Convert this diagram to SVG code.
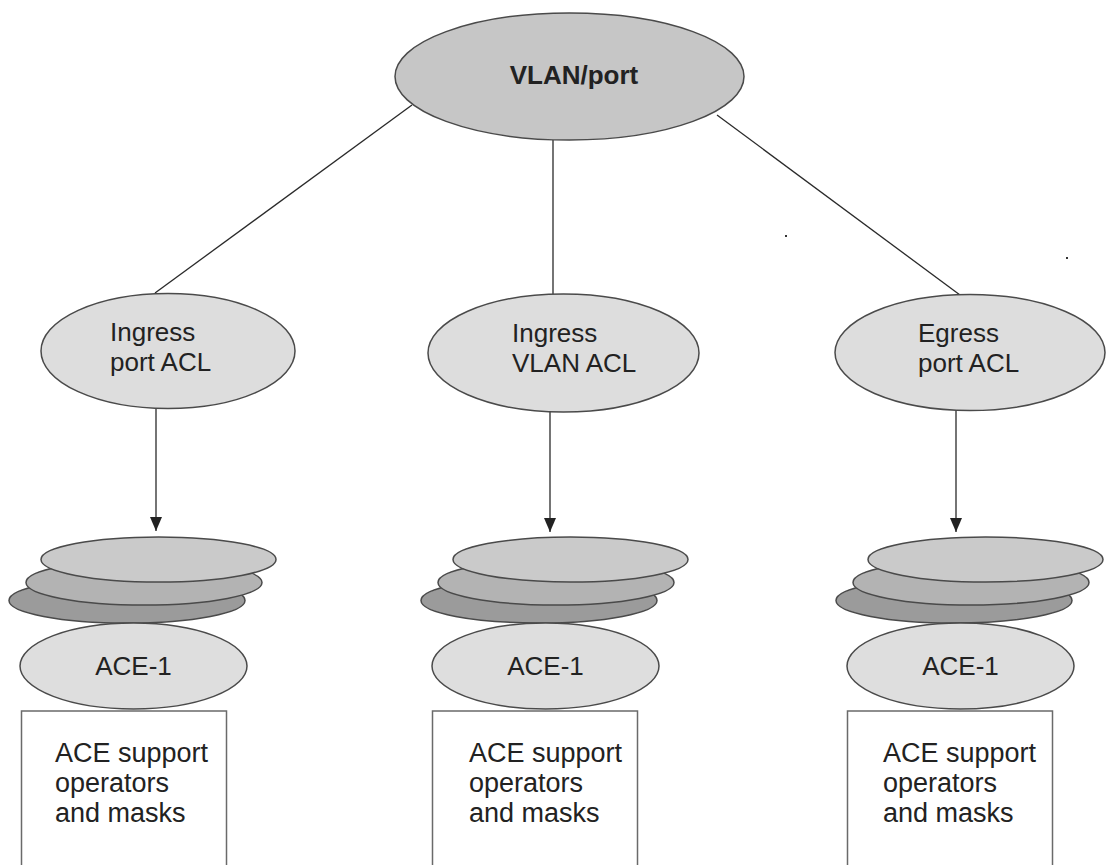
<svg xmlns="http://www.w3.org/2000/svg" width="1107" height="865" viewBox="0 0 1107 865">
<defs>
<style>
.t{font-family:"Liberation Sans",Arial,sans-serif;fill:#222}
.e{stroke:#4a4a4a;stroke-width:1.5}
.lbl{font-size:26px}
.ace{font-size:27px}
.con{stroke:#2a2a2a;stroke-width:1.3;fill:none}
.d1{fill:#cacaca}
.d2{fill:#b3b3b3}
.d3{fill:#9b9b9b}
.ae{fill:#dedede}
.bx{fill:#fff;stroke:#6a6a6a;stroke-width:1.5}
</style>
<marker id="ah" viewBox="0 0 14 12" refX="14" refY="6" markerWidth="14" markerHeight="12" markerUnits="userSpaceOnUse" orient="auto">
<path d="M0,0 L14,6 L0,12 Z" fill="#222"/>
</marker>
</defs>
<rect width="1107" height="865" fill="#fff"/>

<g id="connectors">
<line class="con" x1="412" y1="105" x2="155" y2="293"/>
<line class="con" x1="553" y1="140" x2="553" y2="294"/>
<line class="con" x1="717" y1="115" x2="960" y2="295"/>
<path class="con" d="M156,408 V531" marker-end="url(#ah)"/>
<path class="con" d="M550,411 V532" marker-end="url(#ah)"/>
<path class="con" d="M956,410 V532" marker-end="url(#ah)"/>
</g>

<g id="vlan-port">
<ellipse class="e" cx="569.5" cy="76.5" rx="174.5" ry="63.5" fill="#c6c6c6"/>
<text class="t" x="574" y="84" font-size="26" font-weight="bold" text-anchor="middle">VLAN/port</text>
</g>

<g id="ingress-port-acl">
<ellipse class="e" cx="168" cy="351" rx="127" ry="57.5" fill="#dddddd"/>
<text class="t lbl" x="110" y="341">Ingress</text>
<text class="t lbl" x="110" y="371">port ACL</text>
</g>

<g id="ingress-vlan-acl">
<ellipse class="e" cx="563.5" cy="353" rx="135.5" ry="59" fill="#dddddd"/>
<text class="t lbl" x="512" y="342">Ingress</text>
<text class="t lbl" x="512" y="372">VLAN ACL</text>
</g>

<g id="egress-port-acl">
<ellipse class="e" cx="970" cy="352.5" rx="135" ry="58" fill="#dddddd"/>
<text class="t lbl" x="918" y="342">Egress</text>
<text class="t lbl" x="918" y="372">port ACL</text>
</g>

<g id="stack-1">
<ellipse class="e d3" cx="127" cy="600.5" rx="118" ry="22.5"/>
<ellipse class="e d2" cx="144" cy="582.5" rx="118" ry="22.5"/>
<ellipse class="e d1" cx="158.5" cy="559.5" rx="117.5" ry="22.5"/>
</g>
<g id="ace-1-a">
<ellipse class="e ae" cx="133.5" cy="666" rx="113.5" ry="43"/>
<text class="t" x="133.5" y="675" font-size="26" text-anchor="middle">ACE-1</text>
</g>
<g id="box-1">
<rect class="bx" x="21.5" y="711" width="205" height="170"/>
<text class="t ace" x="55" y="762">ACE support</text>
<text class="t ace" x="55" y="792">operators</text>
<text class="t ace" x="55" y="822">and masks</text>
</g>

<g id="stack-2">
<ellipse class="e d3" cx="539" cy="600.5" rx="118" ry="22.5"/>
<ellipse class="e d2" cx="556" cy="582.5" rx="118" ry="22.5"/>
<ellipse class="e d1" cx="570.5" cy="559.5" rx="117.5" ry="22.5"/>
</g>
<g id="ace-1-b">
<ellipse class="e ae" cx="545.5" cy="666" rx="113.5" ry="43"/>
<text class="t" x="545.5" y="675" font-size="26" text-anchor="middle">ACE-1</text>
</g>
<g id="box-2">
<rect class="bx" x="432.5" y="711" width="205" height="170"/>
<text class="t ace" x="469" y="762">ACE support</text>
<text class="t ace" x="469" y="792">operators</text>
<text class="t ace" x="469" y="822">and masks</text>
</g>

<g id="stack-3">
<ellipse class="e d3" cx="954" cy="600.5" rx="118" ry="22.5"/>
<ellipse class="e d2" cx="971" cy="582.5" rx="118" ry="22.5"/>
<ellipse class="e d1" cx="985.5" cy="559.5" rx="117.5" ry="22.5"/>
</g>
<g id="ace-1-c">
<ellipse class="e ae" cx="960.5" cy="666" rx="113.5" ry="43"/>
<text class="t" x="960.5" y="675" font-size="26" text-anchor="middle">ACE-1</text>
</g>
<g id="box-3">
<rect class="bx" x="847.5" y="711" width="205" height="170"/>
<text class="t ace" x="883" y="762">ACE support</text>
<text class="t ace" x="883" y="792">operators</text>
<text class="t ace" x="883" y="822">and masks</text>
</g>

<g id="specks" fill="#333">
<rect x="785" y="235" width="2" height="2"/>
<rect x="1066" y="257" width="2" height="2"/>
</g>
</svg>
